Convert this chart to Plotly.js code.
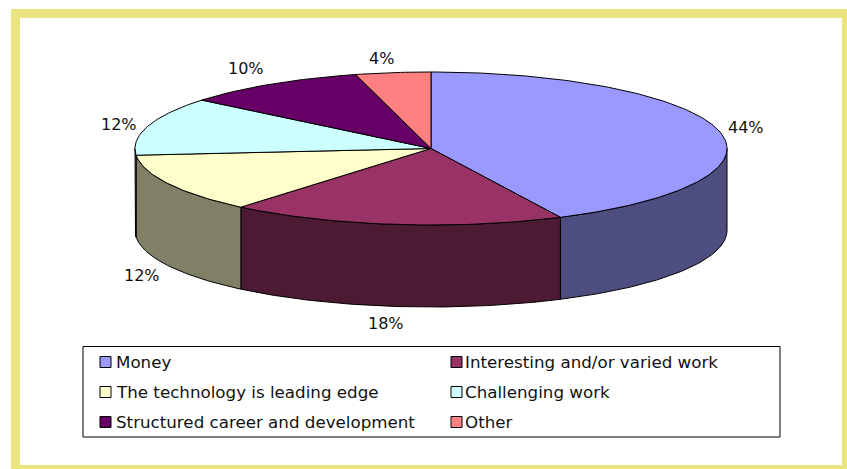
<!DOCTYPE html>
<html>
<head>
<meta charset="utf-8">
<script src="https://cdn.plot.ly/plotly-3.0.1.min.js"></script>
<style>html,body{margin:0;padding:0;background:#fff}#chart{width:847px;height:469px}</style>
</head>
<body>
<div id="chart"></div>
<script>
const categories = ['Money','Interesting and/or varied work','The technology is leading edge','Challenging work','Structured career and development','Other'];
const sliceShares = [42.8,18.3,12.5,12.3,10.0,4.1];
const percentLabels = ['44%','18%','12%','12%','10%','4%'];
const topColors = ['#9999FF','#993366','#FFFFCC','#CCFFFF','#660066','#FF8080'];
const sideColors = ['#4D4D80','#4D1A33','#808066','#668080','#330033','#804040'];

const labelOffsets = [[27,-4],[-9,17],[-27,10],[-29,-2],[-25,-16],[-11,-14]];
const legendRowY = [362,392,422];
const legendColX = [100,451];
const legendTextGap = [13.5,12];

const cx=431, cy=148.5, rx=296, ry=76.5, depth=82;
const FONT='DejaVu Sans, sans-serif';
const rad=d=>d*Math.PI/180;
const px=a=>cx+rx*Math.sin(rad(a));
const py=(a,dz=0)=>cy-ry*Math.cos(rad(a))+dz;
function arc(a0,a1,dz){const n=Math.max(2,Math.ceil(Math.abs(a1-a0)));const xs=[],ys=[];
  for(let i=0;i<=n;i++){const a=a0+(a1-a0)*i/n;xs.push(px(a));ys.push(py(a,dz));}return [xs,ys];}

const total=sliceShares.reduce((s,v)=>s+v,0);
let acc=0;
const spans=sliceShares.map(v=>{const s=[acc*360/total,(acc+v)*360/total];acc+=v;return s;});

const traces=[];
spans.forEach((sp,i)=>{
  const a0=Math.max(sp[0],90),a1=Math.min(sp[1],270);
  if(a1>a0){
    const t=arc(a0,a1,0),b=arc(a1,a0,depth);
    traces.push({type:'scatter',mode:'lines',x:[...t[0],...b[0],t[0][0]],y:[...t[1],...b[1],t[1][0]],
      fill:'toself',fillcolor:sideColors[i],line:{color:'#000',width:1},hoverinfo:'text',text:categories[i],showlegend:false});
  }
});
spans.forEach((sp,i)=>{
  const t=arc(sp[0],sp[1],0);
  traces.push({type:'scatter',mode:'lines',x:[cx,...t[0],cx],y:[cy,...t[1],cy],
    fill:'toself',fillcolor:topColors[i],line:{color:'#000',width:1},hoverinfo:'text',text:categories[i]+': '+percentLabels[i],showlegend:false});
});

const annotations=spans.map((sp,i)=>{
  const m=(sp[0]+sp[1])/2, front=m>90&&m<270;
  return {x:px(m),y:py(m,front?depth:0),xref:'x',yref:'y',text:percentLabels[i],showarrow:false,
    xshift:labelOffsets[i][0],yshift:-labelOffsets[i][1],font:{family:FONT,size:16,color:'#111'},xanchor:'center',yanchor:'middle'};
});
const shapes=[
  {type:'rect',xref:'x',yref:'y',x0:11,y0:9,x1:860,y1:480,fillcolor:'#EAE57E',line:{width:0},layer:'below'},
  {type:'rect',xref:'x',yref:'y',x0:20,y0:18,x1:842,y1:465,fillcolor:'#FFFFFF',line:{width:0},layer:'below'},
  {type:'rect',xref:'x',yref:'y',x0:83,y0:346.5,x1:780,y1:437,fillcolor:'#FFFFFF',line:{color:'#000',width:1},layer:'below'}
];
categories.forEach((c,i)=>{
  const col=i%2,row=Math.floor(i/2),x=legendColX[col],y=legendRowY[row];
  shapes.push({type:'rect',xref:'x',yref:'y',x0:x,x1:x+11,y0:y-5.5,y1:y+5.5,fillcolor:topColors[i],line:{color:'#000',width:1}});
  annotations.push({x:x+legendTextGap[col],y:y,xref:'x',yref:'y',text:c,showarrow:false,xanchor:'left',yanchor:'middle',
    font:{family:FONT,size:16.7,color:'#111'}});
});

Plotly.newPlot('chart',traces,{
  width:847,height:469,margin:{l:0,r:0,t:0,b:0},paper_bgcolor:'#fff',plot_bgcolor:'rgba(0,0,0,0)',showlegend:false,
  xaxis:{range:[0,847],visible:false,fixedrange:true},
  yaxis:{range:[469,0],visible:false,fixedrange:true},
  shapes,annotations
},{displayModeBar:false,responsive:false});
</script>
</body>
</html>
